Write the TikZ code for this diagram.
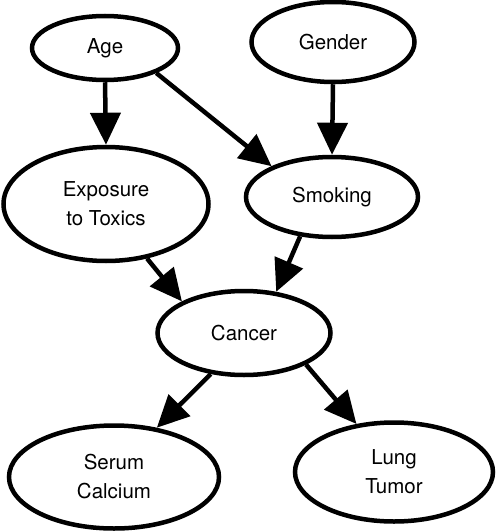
\documentclass[tikz,border=0pt]{standalone}
\usepackage{fontspec}
\setmainfont{TeX Gyre Heros}
\usetikzlibrary{shapes.geometric,arrows.meta}

\begin{document}
\begin{tikzpicture}[x=1pt, y=-1pt,
	var/.style={ellipse, draw, line width=4.5pt, inner sep=0pt, align=center, font=\fontsize{20.5}{29}\selectfont},
	link/.style={line width=4.5pt, -{Triangle[width=30pt,length=32pt]}}]
	\useasboundingbox (0,0) rectangle (500,532);
	% Draw the variables
	\node[var, minimum width=146pt, minimum height=64pt] (age) at (105,48) {Age};
	\node[var, minimum width=163pt, minimum height=80pt] (gender) at (333,42) {Gender};
	\node[var, minimum width=205pt, minimum height=114pt] (exposure) at (106,204) {Exposure\\to Toxics};
	\node[var, minimum width=172pt, minimum height=80pt] (smoking) at (332,197) {Smoking};
	\node[var, minimum width=173pt, minimum height=84pt] (cancer) at (244,333) {Cancer};
	\node[var, minimum width=210pt, minimum height=103pt] (serum) at (114,477) {Serum\\Calcium};
	\node[var, minimum width=198pt, minimum height=99pt] (lung) at (394,472) {Lung\\Tumor};
	% Draw the dependencies
	\draw[link] (age.south) -- (exposure.north);
	\draw[link] (age.-26) -- (smoking.153);
	\draw[link] (gender.south) -- (smoking.north);
	\draw[link] (exposure.-53) -- (cancer.153);
	\draw[link] (smoking.-129) -- (cancer.52);
	\draw[link] (cancer.-129) -- (serum.49);
	\draw[link] (cancer.-27) -- (lung.128);
\end{tikzpicture}
\end{document}
